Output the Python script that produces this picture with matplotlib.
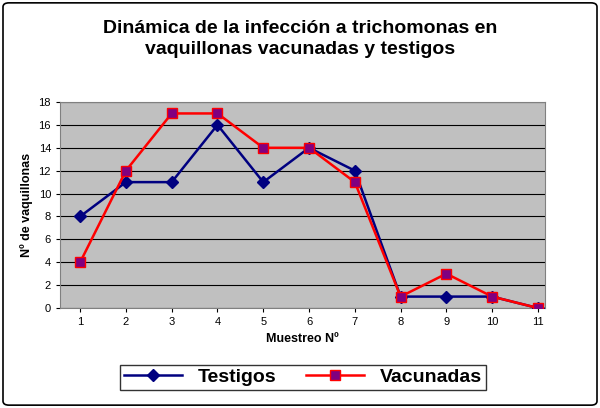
import matplotlib
matplotlib.use("Agg")
import matplotlib.pyplot as plt
from matplotlib.patches import FancyBboxPatch

muestreos = [1, 2, 3, 4, 5, 6, 7, 8, 9, 10, 11]
testigos = [8, 11, 11, 16, 11, 14, 12, 1, 1, 1, 0]
vacunadas = [4, 12, 17, 17, 14, 14, 11, 1, 3, 1, 0]
y_ticks = [0, 2, 4, 6, 8, 10, 12, 14, 16, 18]

plt.rcParams["font.family"] = "Liberation Sans"

fig = plt.figure(figsize=(6, 4.08), dpi=100)
fig.patches.append(FancyBboxPatch((0.005, 0.007), 0.99, 0.986,
                                  boxstyle="round,pad=0,rounding_size=0.01",
                                  transform=fig.transFigure, fill=False,
                                  edgecolor="black", linewidth=1.2))

ax = fig.add_axes([0.1, 0.245, 0.808, 0.505])
ax.set_facecolor("#c0c0c0")
ax.plot(muestreos, testigos, color="#000080", linewidth=1.8, marker="D",
        markersize=6, markerfacecolor="#000080", label="Testigos", zorder=3)
ax.plot(muestreos, vacunadas, color="#ff0000", linewidth=1.8, marker="s",
        markersize=7, markerfacecolor="#800080", markeredgecolor="#ff0000",
        label="Vacunadas", zorder=4)

ax.set_xlim(0.56, 11.15)
ax.set_ylim(0, 18)
ax.set_xticks(muestreos)
ax.set_yticks(y_ticks)
ax.tick_params(labelsize=8, length=3)
ax.yaxis.grid(True, color="black", linewidth=0.8)
ax.set_axisbelow(True)
for s in ax.spines.values():
    s.set_color("#808080")

ax.set_xlabel("Muestreo Nº", fontsize=9, fontweight="bold")
ax.set_ylabel("Nº de vaquillonas", fontsize=9, fontweight="bold")

fig.text(0.5, 0.905, "Dinámica de la infección a trichomonas en\nvaquillonas vacunadas y testigos",
         ha="center", va="center", fontsize=14, fontweight="bold", linespacing=1.3)

leg = fig.legend(loc="center", bbox_to_anchor=(0.505, 0.075), ncol=2,
                 prop={"weight": "bold", "size": 14},
                 frameon=True, fancybox=False, edgecolor="black",
                 handlelength=3, columnspacing=1.5, borderpad=0.2)
leg.get_frame().set_linewidth(1.0)

fig.savefig("out.png", dpi=100)
